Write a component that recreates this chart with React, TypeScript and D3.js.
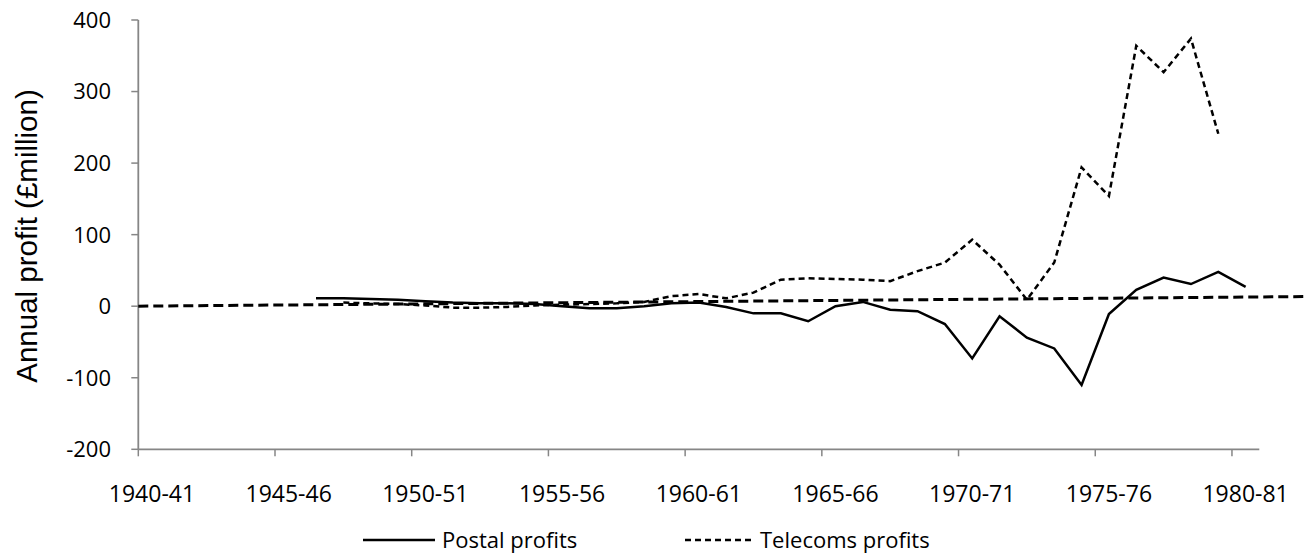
import React from 'react'
import * as d3 from 'd3'

const categories = [
  '1940-41', '1941-42', '1942-43', '1943-44', '1944-45', '1945-46', '1946-47', '1947-48', '1948-49', '1949-50',
  '1950-51', '1951-52', '1952-53', '1953-54', '1954-55', '1955-56', '1956-57', '1957-58', '1958-59', '1959-60',
  '1960-61', '1961-62', '1962-63', '1963-64', '1964-65', '1965-66', '1966-67', '1967-68', '1968-69', '1969-70',
  '1970-71', '1971-72', '1972-73', '1973-74', '1974-75', '1975-76', '1976-77', '1977-78', '1978-79', '1979-80',
  '1980-81',
]

// £million, null where there is no figure
const postalProfits: (number | null)[] = [
  null, null, null, null, null, null, 11, 11, 10, 9,
  7, 5, 4, 4, 3, 0, -3, -3, 0, 4,
  5, -1, -10, -10, -21, 0, 6, -5, -7, -25,
  -73, -14, -44, -59, -110, -11, 23, 40, 31, 48,
  27,
]

const telecomsProfits: (number | null)[] = [
  null, null, null, null, null, null, null, 5, 4, 3,
  1, -2, -2, -1, 1, 2, 3, 4, 6, 14,
  17, 11, 19, 37, 39, 38, 37, 35, 49, 61,
  93, 58, 9, 61, 194, 154, 364, 327, 374, 241,
  null,
]

// straight trend line, position counted in categories from the left axis
const trendLine = [
  { pos: 0, value: 0 },
  { pos: 42.7, value: 13.5 },
]

const yTicks = [-200, -100, 0, 100, 200, 300, 400]
const xTickEvery = 5
const legendItems = ['Postal profits', 'Telecoms profits']

const W = 1305
const H = 559
const left = 138.3
const right = 1259.3
const top = 20
const bottom = 449.3

const axisColor = '#868686'
const tickFont = '"Open Sans", sans-serif'

const App = () => {
  const x = d3.scaleBand<string>().domain(categories).range([left, right]).padding(0)
  const bw = x.bandwidth()
  const y = d3.scaleLinear().domain([-200, 400]).range([bottom, top])
  const xPos = d3.scaleLinear().domain([0, categories.length]).range([left, right])

  const line = d3.line<number | null>()
    .defined(d => d !== null)
    .x((d, i) => (x(categories[i]) as number) + bw / 2)
    .y(d => y(d as number))

  const trend = d3.line<{ pos: number; value: number }>()
    .x(d => xPos(d.pos))
    .y(d => y(d.value))

  return (
    <svg width={W} height={H} style={{ position: 'absolute', left: 0, top: 0, background: '#fff' }}>
      {/* y axis */}
      <line x1={left} x2={left} y1={top} y2={bottom} stroke={axisColor} strokeWidth={1.8} />
      {yTicks.map(t => (
        <g key={t}>
          <line x1={left - 7} x2={left} y1={y(t)} y2={y(t)} stroke={axisColor} strokeWidth={1.5} />
          <text x={111} y={y(t)} dy="0.36em" textAnchor="end" fontFamily={tickFont} fontSize={22} fill="#000">
            {t}
          </text>
        </g>
      ))}

      {/* x axis */}
      <line x1={left} x2={right} y1={bottom} y2={bottom} stroke={axisColor} strokeWidth={1.8} />
      {categories.map((c, i) => i % xTickEvery === 0 && (
        <g key={c}>
          <line x1={x(c)} x2={x(c)} y1={bottom} y2={bottom + 7} stroke={axisColor} strokeWidth={1.5} />
          <text x={(x(c) as number) + bw / 2} y={502} textAnchor="middle" fontFamily={tickFont} fontSize={23} fill="#000">
            {c}
          </text>
        </g>
      ))}

      <text
        transform={`translate(37,236) rotate(-90)`}
        textAnchor="middle"
        fontFamily='"Liberation Sans", Arial, sans-serif'
        fontSize={29.5}
        fill="#000"
      >
        Annual profit (£million)
      </text>

      {/* series */}
      <path d={line(postalProfits) ?? ''} fill="none" stroke="#000" strokeWidth={2.5} strokeLinejoin="miter" />
      <path d={line(telecomsProfits) ?? ''} fill="none" stroke="#000" strokeWidth={2.5} strokeDasharray="6 4" />
      <path d={trend(trendLine) ?? ''} fill="none" stroke="#000" strokeWidth={3} strokeDasharray="10 5" />

      {/* legend */}
      <line x1={363} x2={435} y1={540} y2={540} stroke="#000" strokeWidth={2.5} />
      <text x={442} y={548} fontFamily={tickFont} fontSize={22} fill="#000">{legendItems[0]}</text>
      <line x1={685} x2={752} y1={540} y2={540} stroke="#000" strokeWidth={2.5} strokeDasharray="6 4" />
      <text x={760} y={548} fontFamily={tickFont} fontSize={22} fill="#000">{legendItems[1]}</text>
    </svg>
  )
}

export default App
